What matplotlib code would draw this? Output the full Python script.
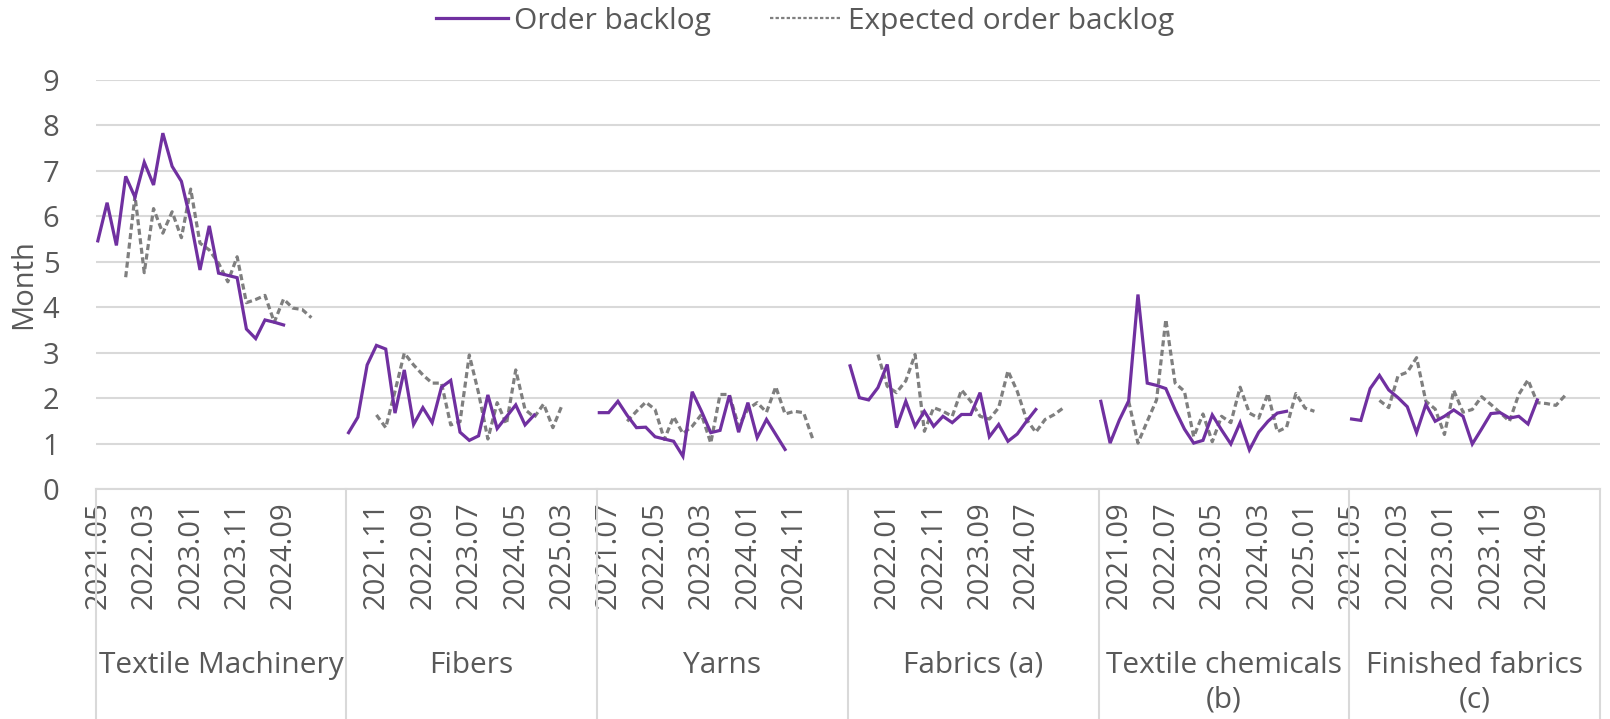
import numpy as np
import pandas as pd
import matplotlib.pyplot as plt
from matplotlib.lines import Line2D
from matplotlib.transforms import blended_transform_factory

groups = ["Textile Machinery", "Fibers", "Yarns", "Fabrics (a)",
          "Textile chemicals\n(b)", "Finished fabrics\n(c)"]

# category axis: monthly rows per group, the last rows are blank
months = pd.period_range("2021-05", "2025-03", freq="M").strftime("%Y.%m").tolist()
rows_per_group = 54

# bimonthly surveys: order backlog 2021.05 .. 2024.09, expected 2021.11 .. 2025.03
order_start, expected_start, step = 0, 6, 2

order_textile = [5.46, 6.30, 5.36, 6.88, 6.42, 7.19, 6.69, 7.83, 7.10, 6.77, 5.90,
                 4.82, 5.79, 4.75, 4.70, 4.65, 3.52, 3.31, 3.72, 3.67, 3.61]
expected_textile = [4.66, 6.45, 4.76, 6.17, 5.63, 6.10, 5.53, 6.60, 5.41, 5.26, 4.97,
                    4.56, 5.11, 4.10, 4.17, 4.26, 3.67, 4.18, 3.98, 3.95, 3.77]

order_fibers = [1.24, 1.58, 2.73, 3.16, 3.08, 1.67, 2.62, 1.42, 1.79, 1.46, 2.24,
                2.39, 1.25, 1.07, 1.17, 2.07, 1.33, 1.59, 1.85, 1.41, 1.63]
expected_fibers = [1.63, 1.35, 2.15, 2.99, 2.73, 2.51, 2.33, 2.33, 1.41, 1.48, 2.95,
                   2.11, 1.10, 1.90, 1.43, 2.62, 1.75, 1.58, 1.87, 1.35, 1.85]

order_yarns = [1.68, 1.68, 1.93, 1.62, 1.35, 1.36, 1.15, 1.10, 1.05, 0.72, 2.14,
               1.71, 1.24, 1.29, 2.06, 1.25, 1.90, 1.13, 1.53, 1.20, 0.87]
expected_yarns = [1.49, 1.71, 1.91, 1.75, 1.09, 1.59, 1.22, 1.38, 1.64, 1.01, 2.08,
                  2.08, 1.38, 1.76, 1.90, 1.69, 2.25, 1.65, 1.71, 1.68, 1.09]

order_fabrics = [2.71, 2.01, 1.96, 2.23, 2.74, 1.35, 1.93, 1.38, 1.71, 1.38, 1.60,
                 1.46, 1.64, 1.64, 2.12, 1.15, 1.42, 1.05, 1.21, 1.49, 1.75]
expected_fabrics = [2.96, 2.26, 2.12, 2.38, 2.96, 1.27, 1.79, 1.71, 1.60, 2.18, 1.93,
                    1.60, 1.54, 1.79, 2.60, 2.15, 1.53, 1.25, 1.53, 1.64, 1.79]

order_chemicals = [1.93, 1.01, 1.52, 1.94, 4.28, 2.33, 2.28, 2.21, 1.74, 1.32, 1.01,
                   1.07, 1.63, 1.30, 0.99, 1.46, 0.86, 1.25, 1.49, 1.67, 1.71]
expected_chemicals = [1.93, 1.01, 1.49, 1.96, 3.73, 2.33, 2.15, 1.15, 1.65, 1.04, 1.60,
                      1.46, 2.24, 1.67, 1.56, 2.10, 1.26, 1.36, 2.10, 1.78, 1.71]

order_finished = [1.54, 1.51, 2.21, 2.50, 2.18, 2.01, 1.81, 1.24, 1.86, 1.49, 1.60,
                  1.74, 1.60, 0.99, 1.32, 1.66, 1.68, 1.56, 1.60, 1.43, 1.96]
expected_finished = [1.95, 1.79, 2.49, 2.57, 2.89, 1.93, 1.76, 1.20, 2.17, 1.69, 1.75,
                     2.03, 1.86, 1.68, 1.49, 2.08, 2.40, 1.90, 1.88, 1.84, 2.06]

order_all = [order_textile, order_fibers, order_yarns, order_fabrics,
             order_chemicals, order_finished]
expected_all = [expected_textile, expected_fibers, expected_yarns, expected_fabrics,
                expected_chemicals, expected_finished]

purple = "#7030a0"
grey = "#7f7f7f"
txt = "#595959"
gridc = "#d9d9d9"

plt.rcParams["font.family"] = ["Open Sans", "DejaVu Sans"]

fig = plt.figure(figsize=(16.1, 7.19), dpi=100)
ax = fig.add_axes([95.5 / 1610, 1 - 489 / 719, (1600 - 95.5) / 1610, (489 - 80) / 719])

for g in range(len(groups)):
    base = g * rows_per_group
    o = order_all[g]
    e = expected_all[g]
    xo = base + order_start + step * np.arange(len(o))
    xe = base + expected_start + step * np.arange(len(e))
    ax.plot(xo, o, color=purple, lw=2.3, solid_joinstyle="miter", zorder=3)
    ax.plot(xe, e, color=grey, lw=2.3, dashes=(1.9, 1.1), zorder=2)

n_total = rows_per_group * len(groups)
ax.set_xlim(-0.5, n_total - 0.5)
ax.set_ylim(0, 9)
ax.set_yticks(range(10))
ax.tick_params(axis="y", length=0, pad=26, labelsize=21, labelcolor=txt)
ax.grid(axis="y", color=gridc, lw=1.5)
ax.set_axisbelow(True)
for s in ["left", "right", "top"]:
    ax.spines[s].set_visible(False)
ax.spines["bottom"].set_color(gridc)
ax.spines["bottom"].set_linewidth(1.5)

# category tick labels every 10 rows, blank rows skipped
pos, labs = [], []
for g in range(len(groups)):
    for i in range(rows_per_group):
        k = g * rows_per_group + i
        if k % 10 == 0 and i < len(months):
            pos.append(k)
            labs.append(months[i])
ax.set_xticks(pos)
ax.set_xticklabels(labs, rotation=90, fontsize=21, color=txt)
ax.tick_params(axis="x", length=0, pad=9)

tr = blended_transform_factory(ax.transData, ax.transAxes)
for g in range(len(groups) + 1):
    xb = g * rows_per_group - 0.5
    ax.add_line(Line2D([xb, xb], [0, -0.6], transform=tr, color=gridc, lw=1.5,
                       clip_on=False))
for g, name in enumerate(groups):
    xc = g * rows_per_group + rows_per_group / 2 - 0.5
    ax.text(xc, -0.395, name, transform=tr, ha="center", va="top", fontsize=21.5,
            color=txt, linespacing=1.28)

ax.set_ylabel("Month", fontsize=21, color=txt)
ax.yaxis.set_label_coords(-0.038, 0.5)

handles = [Line2D([], [], color=purple, lw=2.3),
           Line2D([], [], color=grey, lw=1.6, dashes=(1.5, 1.0))]
fig.legend(handles, ["Order backlog", "Expected order backlog"], loc="center",
           bbox_to_anchor=(0.5, 1 - 21 / 719), ncol=2, frameon=False, fontsize=21.5,
           labelcolor=txt, handlelength=2.4, handletextpad=0.2, columnspacing=2.0)

fig.savefig("out.png", dpi=100)
